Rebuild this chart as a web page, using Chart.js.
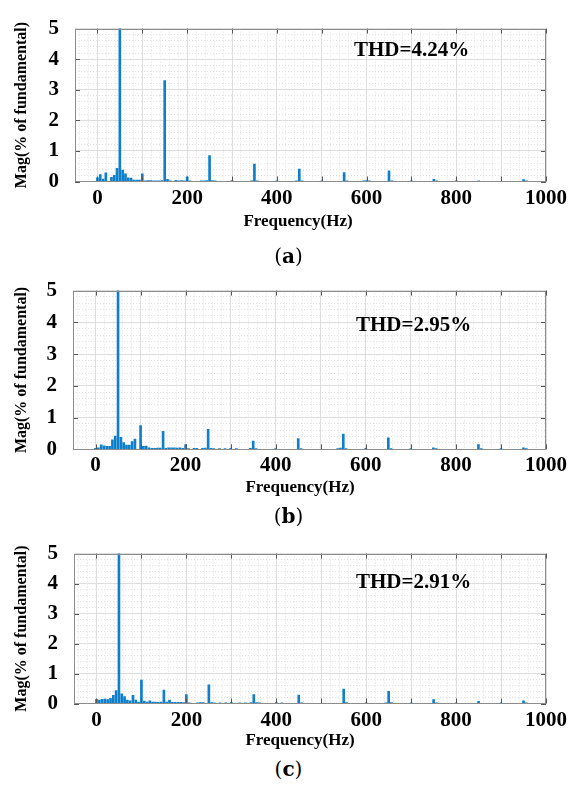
<!DOCTYPE html>
<html>
<head>
<meta charset="utf-8">
<script src="https://cdn.jsdelivr.net/npm/chart.js@4.4.1/dist/chart.umd.min.js"></script>
<style>
  body { margin: 0; background: #fff; }
  #page { position: relative; width: 571px; height: 787px; overflow: hidden; background: #fff; }
  .panel { position: absolute; left: 0; width: 571px; }
  .caption { position: absolute; left: 3px; width: 571px; text-align: center; font-family: 'DejaVu Serif', serif; font-size: 20px; line-height: 20px; color: #000; }
</style>
</head>
<body>
<div id="page">
  <div class="panel" style="top:0px;height:240px"><canvas id="chartA" width="571" height="240"></canvas></div>
  <div class="panel" style="top:262px;height:240px"><canvas id="chartB" width="571" height="240"></canvas></div>
  <div class="panel" style="top:525px;height:230px"><canvas id="chartC" width="571" height="230"></canvas></div>
  <div class="caption" style="top:246px">(<b>a</b>)</div>
  <div class="caption" style="top:506px">(<b>b</b>)</div>
  <div class="caption" style="top:759px">(<b>c</b>)</div>
</div>
<script>
// spectrum bins (Hz) and magnitudes (% of fundamental), fundamental = 100 (clipped at 5)
const freqA = [0, 6.25, 12.5, 18.75, 31.25, 37.5, 43.75, 50, 56.25, 62.5, 68.75, 75, 81.25, 87.5, 93.75, 100,
  106.25, 112.5, 118.75, 125, 131.25, 137.5, 143.75, 150, 156.25, 162.5, 175, 181.25, 187.5, 193.75, 200, 206.25,
  231.25, 237.5, 243.75, 250, 256.25, 262.5, 300, 343.75, 350, 356.25, 400, 443.75, 450, 456.25, 500, 550, 556.25,
  593.75, 600, 606.25, 650, 656.25, 700, 750, 756.25, 800, 850, 950, 956.25];
const magA = [0.12, 0.23, 0.08, 0.28, 0.14, 0.2, 0.43, 100, 0.37, 0.25, 0.12, 0.11, 0.05, 0.05, 0.05, 0.25,
  0.02, 0.03, 0.03, 0.02, 0.02, 0.02, 0.03, 3.3, 0.07, 0.02, 0.04, 0.02, 0.03, 0.02, 0.15, 0.02,
  0.02, 0.02, 0.03, 0.85, 0.03, 0.02, 0.03, 0.02, 0.57, 0.02, 0.02, 0.02, 0.41, 0.02, 0.02, 0.29, 0.02,
  0.02, 0.03, 0.02, 0.35, 0.02, 0.02, 0.07, 0.02, 0.02, 0.02, 0.06, 0.02];

const freqB = [0, 6.25, 12.5, 18.75, 25, 31.25, 37.5, 43.75, 50, 56.25, 62.5, 68.75, 75, 81.25, 87.5, 100,
  106.25, 112.5, 118.75, 125, 131.25, 137.5, 143.75, 150, 156.25, 162.5, 168.75, 175, 181.25, 187.5, 193.75, 200,
  206.25, 218.75, 225, 237.5, 243.75, 250, 256.25, 262.5, 275, 287.5, 300, 312.5, 343.75, 350, 356.25, 400, 450,
  456.25, 537.5, 543.75, 550, 556.25, 600, 650, 656.25, 700, 750, 756.25, 850, 856.25, 900, 950, 956.25];
const magB = [0.03, 0.05, 0.14, 0.11, 0.09, 0.09, 0.3, 0.42, 100, 0.38, 0.21, 0.13, 0.13, 0.24, 0.32, 0.75,
  0.09, 0.1, 0.05, 0.03, 0.03, 0.04, 0.04, 0.57, 0.03, 0.05, 0.05, 0.05, 0.04, 0.05, 0.03, 0.15,
  0.02, 0.03, 0.03, 0.03, 0.04, 0.63, 0.03, 0.02, 0.02, 0.02, 0.03, 0.02, 0.03, 0.26, 0.02, 0.02, 0.34,
  0.02, 0.02, 0.04, 0.48, 0.02, 0.03, 0.36, 0.02, 0.02, 0.05, 0.02, 0.15, 0.02, 0.02, 0.05, 0.02];

const freqC = [0, 6.25, 12.5, 18.75, 25, 31.25, 37.5, 43.75, 50, 56.25, 62.5, 68.75, 75, 81.25, 87.5, 93.75, 100,
  106.25, 112.5, 118.75, 125, 131.25, 137.5, 143.75, 150, 156.25, 162.5, 168.75, 175, 181.25, 187.5, 193.75, 200,
  206.25, 225, 231.25, 237.5, 250, 256.25, 262.5, 275, 287.5, 300, 318.75, 331.25, 343.75, 350, 356.25, 362.5,
  400, 412.5, 450, 456.25, 550, 556.25, 600, 643.75, 650, 656.25, 700, 750, 756.25, 800, 850, 900, 950, 956.25];
const magC = [0.14, 0.11, 0.14, 0.15, 0.13, 0.17, 0.27, 0.43, 100, 0.32, 0.23, 0.11, 0.09, 0.27, 0.11, 0.05, 0.78,
  0.08, 0.05, 0.09, 0.05, 0.05, 0.04, 0.05, 0.45, 0.05, 0.11, 0.04, 0.04, 0.04, 0.04, 0.03, 0.3,
  0.02, 0.02, 0.03, 0.03, 0.62, 0.03, 0.02, 0.02, 0.02, 0.03, 0.02, 0.02, 0.03, 0.3, 0.03, 0.02,
  0.03, 0.02, 0.28, 0.02, 0.48, 0.03, 0.02, 0.02, 0.41, 0.03, 0.02, 0.13, 0.02, 0.02, 0.07, 0.02, 0.09, 0.02];

const thdLabels = ['THD=4.24%', 'THD=2.95%', 'THD=2.91%'];

// axis ticks
const xMajorTicks = [0, 100, 200, 300, 400, 500, 600, 700, 800, 900, 1000];
const yMajorTicks = [0, 1, 2, 3, 4, 5];
const xMinorTicks = [];
for (let v = -40; v <= 1000; v += 20) xMinorTicks.push(v);
const yMinorTicks = [];
for (let i = 0; i <= 25; i++) yMinorTicks.push(+(i * 0.2).toFixed(1));

const barColor = '#0e7fcb';
Chart.defaults.font.family = "'Liberation Serif', 'Times New Roman', serif";
Chart.defaults.color = '#000';

// inner tick marks, box, x title and THD note
const axesBox = {
  id: 'axesBox',
  afterDatasetsDraw(chart, args, opts) {
    const { ctx, chartArea: a, scales } = chart;
    ctx.save();
    ctx.strokeStyle = '#555';
    ctx.lineWidth = 1;
    ctx.beginPath();
    scales.x.ticks.forEach(t => {
      const px = Math.round(scales.x.getPixelForValue(t.value)) + 0.5;
      ctx.moveTo(px, a.bottom); ctx.lineTo(px, a.bottom - 5);
      ctx.moveTo(px, a.top); ctx.lineTo(px, a.top + 5);
    });
    scales.y.ticks.forEach(t => {
      const py = Math.round(scales.y.getPixelForValue(t.value)) + 0.5;
      ctx.moveTo(a.left, py); ctx.lineTo(a.left + 5, py);
      ctx.moveTo(a.right, py); ctx.lineTo(a.right - 5, py);
    });
    ctx.stroke();
    ctx.strokeStyle = '#8c8c8c';
    ctx.strokeRect(Math.round(a.left) + 0.5, Math.round(a.top) + 0.5,
      Math.round(a.right - a.left) - 1, Math.round(a.bottom - a.top) - 1);

    ctx.fillStyle = '#000';
    ctx.textBaseline = 'middle';
    ctx.font = "bold 17px 'Liberation Serif'";
    ctx.textAlign = 'center';
    ctx.fillText('Frequency(Hz)', opts.titleX, opts.titleY);
    ctx.font = "bold 21px 'Liberation Serif'";
    ctx.textAlign = 'left';
    ctx.fillText(opts.thd, opts.thdX, opts.thdY);
    ctx.restore();
  }
};

function makeSpectrum(canvasId, freqs, mags, thd, box) {
  const points = freqs.map((f, i) => ({ x: f, y: mags[i] }));
  const plotTop = box.top - box.canvasTop;
  const plotBottom = box.bottom - box.canvasTop;
  const minorGrid = { color: '#e1e1e1', lineWidth: 1, drawTicks: false, offset: false };
  return new Chart(document.getElementById(canvasId), {
    type: 'bar',
    data: {
      datasets: [{
        data: points,
        backgroundColor: barColor,
        borderWidth: 0,
        barThickness: 2,
        clip: 0
      }]
    },
    options: {
      responsive: false,
      animation: false,
      layout: { padding: { top: plotTop, left: 0, right: 571 - box.right, bottom: 0 } },
      plugins: {
        legend: { display: false },
        tooltip: { enabled: false },
        axesBox: { thd: thd, thdX: box.thdX, thdY: box.thdY - box.canvasTop, titleX: box.titleX, titleY: box.titleY - box.canvasTop }
      },
      scales: {
        xMinor: {
          type: 'linear', position: 'bottom', min: -50, max: 1000, offset: false,
          afterBuildTicks: s => { s.ticks = xMinorTicks.map(v => ({ value: v })); },
          afterFit: s => { s.height = 0; },
          ticks: { display: false },
          grid: minorGrid,
          border: { display: false, dash: [1, 2] }
        },
        yMinor: {
          type: 'linear', position: 'left', min: 0, max: 5,
          afterBuildTicks: s => { s.ticks = yMinorTicks.map(v => ({ value: v })); },
          afterFit: s => { s.width = 0; },
          ticks: { display: false },
          grid: minorGrid,
          border: { display: false, dash: [1, 2] }
        },
        x: {
          type: 'linear', position: 'bottom', min: -50, max: 1000, offset: false,
          afterBuildTicks: s => { s.ticks = xMajorTicks.map(v => ({ value: v })); },
          afterFit: s => { s.height = box.canvasH - plotBottom; },
          ticks: {
            autoSkip: false, maxRotation: 0, padding: 4,
            font: { size: 21, weight: 'bold' },
            callback: v => (v % 200 === 0 ? String(v) : '')
          },
          grid: { color: '#dedede', lineWidth: 1, drawTicks: false, offset: false },
          border: { display: false }
        },
        y: {
          type: 'linear', position: 'left', min: 0, max: 5,
          afterBuildTicks: s => { s.ticks = yMajorTicks.map(v => ({ value: v })); },
          afterFit: s => { s.width = box.left; },
          ticks: { padding: 16, font: { size: 21, weight: 'bold' } },
          grid: { color: '#dedede', lineWidth: 1, drawTicks: false },
          border: { display: false },
          title: {
            display: true, text: 'Mag(% of fundamental)',
            font: { size: 16, weight: 'bold' },
            padding: { top: 12, bottom: 0 }
          }
        }
      }
    },
    plugins: [axesBox]
  });
}

makeSpectrum('chartA', freqA, magA, thdLabels[0],
  { canvasTop: 0, canvasH: 240, top: 18, bottom: 181.5, left: 75, right: 548, thdX: 354, thdY: 51, titleX: 298, titleY: 222 });
makeSpectrum('chartB', freqB, magB, thdLabels[1],
  { canvasTop: 262, canvasH: 240, top: 285, bottom: 449.3, left: 73, right: 551, thdX: 356, thdY: 326, titleX: 300, titleY: 488 });
makeSpectrum('chartC', freqC, magC, thdLabels[2],
  { canvasTop: 525, canvasH: 230, top: 550, bottom: 703.5, left: 74, right: 550, thdX: 356, thdY: 583, titleX: 300, titleY: 741 });
</script>
</body>
</html>
